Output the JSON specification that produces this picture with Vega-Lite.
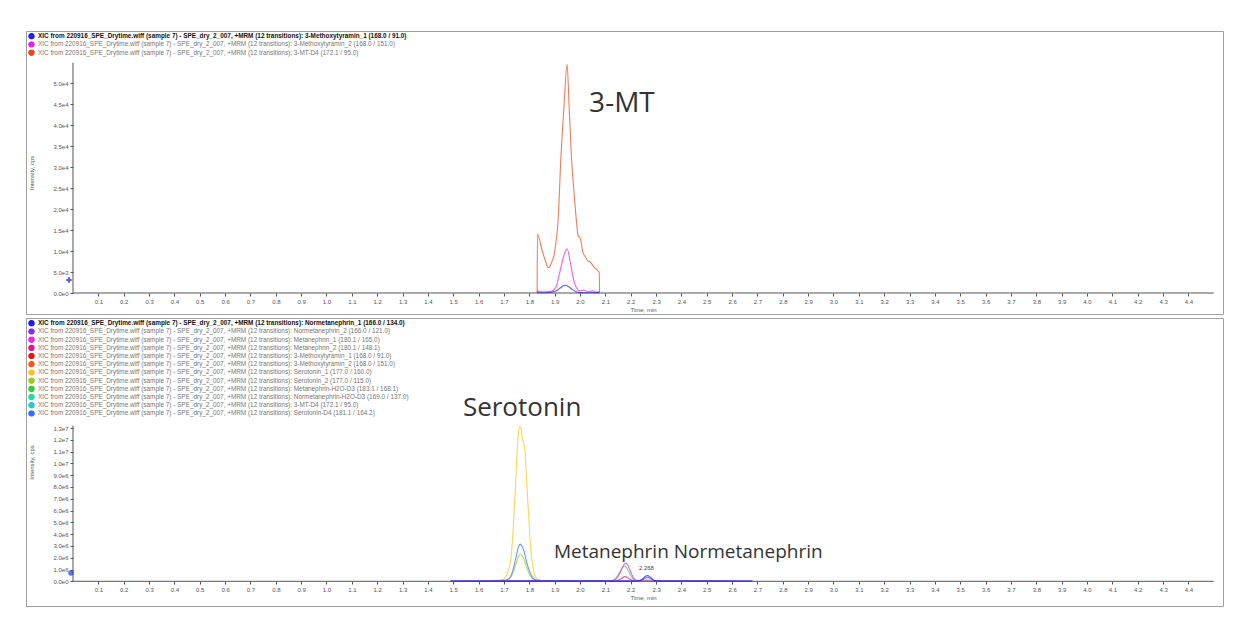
{
  "$schema": "https://vega.github.io/schema/vega-lite/v6.json",
  "padding": {"left": 25, "top": 30, "right": 0, "bottom": 0},
  "spacing": 2,
  "background": "white",
  "config": {
    "view": {"stroke": "#a0a0a0", "strokeWidth": 1},
    "axis": {"grid": false, "domain": false, "labelOverlap": false, "labelBound": false, "tickCount": 200, "tickColor": "#555", "tickSize": 3, "labelFont": "Liberation Sans", "labelFontSize": 6, "labelColor": "#555", "labelPadding": 2, "titleFont": "Liberation Sans", "titleFontSize": 6, "titleFontWeight": "normal", "titleColor": "#555"},
    "legend": {"orient": "top-left", "offset": 2, "padding": 0, "title": null, "symbolType": "circle", "symbolSize": 10, "symbolStrokeWidth": 3.4, "symbolOpacity": 1, "labelFont": "Liberation Sans", "labelFontSize": 6.4, "labelColor": "#777", "labelLimit": 0, "labelOffset": 3, "rowPadding": 1.2, "clipHeight": 6.5},
    "text": {"font": "Open Sans"}
  },
  "resolve": {"scale": {"color": "independent"}, "legend": {"color": "independent"}},
  "datasets": {
    "topAxes": [{"x": 0, "x2": 4.5, "y": 0, "y2": 0}, {"x": 0, "x2": 0, "y": 0, "y2": 54800}],
    "botAxes": [{"x": 0, "x2": 4.5, "y": 0, "y2": 0}, {"x": 0, "x2": 0, "y": 0, "y2": 13200000}],
    "top": [
      {"s": "3-MT-D4 (172.1 / 95.0)", "t": 1.831, "v": 0},
      {"s": "3-MT-D4 (172.1 / 95.0)", "t": 1.832, "v": 13980},
      {"s": "3-MT-D4 (172.1 / 95.0)", "t": 1.85, "v": 10300},
      {"s": "3-MT-D4 (172.1 / 95.0)", "t": 1.866, "v": 7200},
      {"s": "3-MT-D4 (172.1 / 95.0)", "t": 1.874, "v": 6020},
      {"s": "3-MT-D4 (172.1 / 95.0)", "t": 1.882, "v": 6400},
      {"s": "3-MT-D4 (172.1 / 95.0)", "t": 1.89, "v": 7600},
      {"s": "3-MT-D4 (172.1 / 95.0)", "t": 1.898, "v": 9000},
      {"s": "3-MT-D4 (172.1 / 95.0)", "t": 1.906, "v": 12500},
      {"s": "3-MT-D4 (172.1 / 95.0)", "t": 1.913, "v": 16700},
      {"s": "3-MT-D4 (172.1 / 95.0)", "t": 1.925, "v": 32600},
      {"s": "3-MT-D4 (172.1 / 95.0)", "t": 1.937, "v": 44500},
      {"s": "3-MT-D4 (172.1 / 95.0)", "t": 1.949, "v": 54450},
      {"s": "3-MT-D4 (172.1 / 95.0)", "t": 1.957, "v": 44500},
      {"s": "3-MT-D4 (172.1 / 95.0)", "t": 1.966, "v": 32600},
      {"s": "3-MT-D4 (172.1 / 95.0)", "t": 1.975, "v": 25000},
      {"s": "3-MT-D4 (172.1 / 95.0)", "t": 1.983, "v": 19100},
      {"s": "3-MT-D4 (172.1 / 95.0)", "t": 1.993, "v": 13600},
      {"s": "3-MT-D4 (172.1 / 95.0)", "t": 2.0, "v": 13200},
      {"s": "3-MT-D4 (172.1 / 95.0)", "t": 2.012, "v": 9600},
      {"s": "3-MT-D4 (172.1 / 95.0)", "t": 2.022, "v": 8500},
      {"s": "3-MT-D4 (172.1 / 95.0)", "t": 2.032, "v": 7600},
      {"s": "3-MT-D4 (172.1 / 95.0)", "t": 2.042, "v": 7300},
      {"s": "3-MT-D4 (172.1 / 95.0)", "t": 2.052, "v": 6400},
      {"s": "3-MT-D4 (172.1 / 95.0)", "t": 2.064, "v": 5700},
      {"s": "3-MT-D4 (172.1 / 95.0)", "t": 2.076, "v": 4830},
      {"s": "3-MT-D4 (172.1 / 95.0)", "t": 2.077, "v": 0},
      {"s": "3-Methoxytyramin_2 (168.0 / 151.0)", "t": 1.831, "v": 0},
      {"s": "3-Methoxytyramin_2 (168.0 / 151.0)", "t": 1.832, "v": 500},
      {"s": "3-Methoxytyramin_2 (168.0 / 151.0)", "t": 1.845, "v": 300},
      {"s": "3-Methoxytyramin_2 (168.0 / 151.0)", "t": 1.86, "v": 250},
      {"s": "3-Methoxytyramin_2 (168.0 / 151.0)", "t": 1.88, "v": 350},
      {"s": "3-Methoxytyramin_2 (168.0 / 151.0)", "t": 1.895, "v": 650},
      {"s": "3-Methoxytyramin_2 (168.0 / 151.0)", "t": 1.907, "v": 1670},
      {"s": "3-Methoxytyramin_2 (168.0 / 151.0)", "t": 1.92, "v": 4830},
      {"s": "3-Methoxytyramin_2 (168.0 / 151.0)", "t": 1.936, "v": 8800},
      {"s": "3-Methoxytyramin_2 (168.0 / 151.0)", "t": 1.949, "v": 10550},
      {"s": "3-Methoxytyramin_2 (168.0 / 151.0)", "t": 1.962, "v": 7200},
      {"s": "3-Methoxytyramin_2 (168.0 / 151.0)", "t": 1.973, "v": 3640},
      {"s": "3-Methoxytyramin_2 (168.0 / 151.0)", "t": 1.986, "v": 1260},
      {"s": "3-Methoxytyramin_2 (168.0 / 151.0)", "t": 2.0, "v": 500},
      {"s": "3-Methoxytyramin_2 (168.0 / 151.0)", "t": 2.015, "v": 700},
      {"s": "3-Methoxytyramin_2 (168.0 / 151.0)", "t": 2.03, "v": 300},
      {"s": "3-Methoxytyramin_2 (168.0 / 151.0)", "t": 2.05, "v": 550},
      {"s": "3-Methoxytyramin_2 (168.0 / 151.0)", "t": 2.062, "v": 200},
      {"s": "3-Methoxytyramin_2 (168.0 / 151.0)", "t": 2.076, "v": 300},
      {"s": "3-Methoxytyramin_2 (168.0 / 151.0)", "t": 2.077, "v": 0},
      {"s": "3-Methoxytyramin_1 (168.0 / 91.0)", "t": 1.832, "v": 100},
      {"s": "3-Methoxytyramin_1 (168.0 / 91.0)", "t": 1.86, "v": 50},
      {"s": "3-Methoxytyramin_1 (168.0 / 91.0)", "t": 1.89, "v": 200},
      {"s": "3-Methoxytyramin_1 (168.0 / 91.0)", "t": 1.905, "v": 450},
      {"s": "3-Methoxytyramin_1 (168.0 / 91.0)", "t": 1.92, "v": 1100},
      {"s": "3-Methoxytyramin_1 (168.0 / 91.0)", "t": 1.94, "v": 1830},
      {"s": "3-Methoxytyramin_1 (168.0 / 91.0)", "t": 1.955, "v": 1500},
      {"s": "3-Methoxytyramin_1 (168.0 / 91.0)", "t": 1.97, "v": 800},
      {"s": "3-Methoxytyramin_1 (168.0 / 91.0)", "t": 1.985, "v": 300},
      {"s": "3-Methoxytyramin_1 (168.0 / 91.0)", "t": 2.0, "v": 100},
      {"s": "3-Methoxytyramin_1 (168.0 / 91.0)", "t": 2.03, "v": 50},
      {"s": "3-Methoxytyramin_1 (168.0 / 91.0)", "t": 2.076, "v": 80}
    ],
    "bottom": [
      {"s": "Serotonin_1 (177.0 / 160.0)", "t": 1.49, "v": 20000},
      {"s": "Serotonin_1 (177.0 / 160.0)", "t": 1.6, "v": 20000},
      {"s": "Serotonin_1 (177.0 / 160.0)", "t": 1.68, "v": 60000},
      {"s": "Serotonin_1 (177.0 / 160.0)", "t": 1.7, "v": 200000},
      {"s": "Serotonin_1 (177.0 / 160.0)", "t": 1.713, "v": 700000},
      {"s": "Serotonin_1 (177.0 / 160.0)", "t": 1.726, "v": 1700000},
      {"s": "Serotonin_1 (177.0 / 160.0)", "t": 1.733, "v": 3300000},
      {"s": "Serotonin_1 (177.0 / 160.0)", "t": 1.739, "v": 5400000},
      {"s": "Serotonin_1 (177.0 / 160.0)", "t": 1.746, "v": 8300000},
      {"s": "Serotonin_1 (177.0 / 160.0)", "t": 1.752, "v": 11000000},
      {"s": "Serotonin_1 (177.0 / 160.0)", "t": 1.758, "v": 12700000},
      {"s": "Serotonin_1 (177.0 / 160.0)", "t": 1.763, "v": 13150000},
      {"s": "Serotonin_1 (177.0 / 160.0)", "t": 1.768, "v": 12900000},
      {"s": "Serotonin_1 (177.0 / 160.0)", "t": 1.773, "v": 12100000},
      {"s": "Serotonin_1 (177.0 / 160.0)", "t": 1.778, "v": 11700000},
      {"s": "Serotonin_1 (177.0 / 160.0)", "t": 1.783, "v": 11000000},
      {"s": "Serotonin_1 (177.0 / 160.0)", "t": 1.79, "v": 8300000},
      {"s": "Serotonin_1 (177.0 / 160.0)", "t": 1.798, "v": 5400000},
      {"s": "Serotonin_1 (177.0 / 160.0)", "t": 1.805, "v": 2900000},
      {"s": "Serotonin_1 (177.0 / 160.0)", "t": 1.811, "v": 1700000},
      {"s": "Serotonin_1 (177.0 / 160.0)", "t": 1.818, "v": 800000},
      {"s": "Serotonin_1 (177.0 / 160.0)", "t": 1.824, "v": 400000},
      {"s": "Serotonin_1 (177.0 / 160.0)", "t": 1.835, "v": 150000},
      {"s": "Serotonin_1 (177.0 / 160.0)", "t": 1.85, "v": 60000},
      {"s": "Serotonin_1 (177.0 / 160.0)", "t": 1.9, "v": 30000},
      {"s": "Serotonin_1 (177.0 / 160.0)", "t": 2.1, "v": 20000},
      {"s": "Serotonin_2 (177.0 / 115.0)", "t": 1.49, "v": 30000},
      {"s": "Serotonin_2 (177.0 / 115.0)", "t": 1.6, "v": 30000},
      {"s": "Serotonin_2 (177.0 / 115.0)", "t": 1.7, "v": 50000},
      {"s": "Serotonin_2 (177.0 / 115.0)", "t": 1.72, "v": 180000},
      {"s": "Serotonin_2 (177.0 / 115.0)", "t": 1.735, "v": 650000},
      {"s": "Serotonin_2 (177.0 / 115.0)", "t": 1.748, "v": 1500000},
      {"s": "Serotonin_2 (177.0 / 115.0)", "t": 1.757, "v": 2100000},
      {"s": "Serotonin_2 (177.0 / 115.0)", "t": 1.765, "v": 2300000},
      {"s": "Serotonin_2 (177.0 / 115.0)", "t": 1.772, "v": 2150000},
      {"s": "Serotonin_2 (177.0 / 115.0)", "t": 1.78, "v": 1800000},
      {"s": "Serotonin_2 (177.0 / 115.0)", "t": 1.79, "v": 1150000},
      {"s": "Serotonin_2 (177.0 / 115.0)", "t": 1.8, "v": 650000},
      {"s": "Serotonin_2 (177.0 / 115.0)", "t": 1.812, "v": 250000},
      {"s": "Serotonin_2 (177.0 / 115.0)", "t": 1.825, "v": 90000},
      {"s": "Serotonin_2 (177.0 / 115.0)", "t": 1.85, "v": 40000},
      {"s": "Serotonin_2 (177.0 / 115.0)", "t": 2.1, "v": 30000},
      {"s": "Serotonin-D4 (181.1 / 164.2)", "t": 1.49, "v": 50000},
      {"s": "Serotonin-D4 (181.1 / 164.2)", "t": 1.6, "v": 50000},
      {"s": "Serotonin-D4 (181.1 / 164.2)", "t": 1.7, "v": 80000},
      {"s": "Serotonin-D4 (181.1 / 164.2)", "t": 1.72, "v": 250000},
      {"s": "Serotonin-D4 (181.1 / 164.2)", "t": 1.735, "v": 900000},
      {"s": "Serotonin-D4 (181.1 / 164.2)", "t": 1.748, "v": 2100000},
      {"s": "Serotonin-D4 (181.1 / 164.2)", "t": 1.757, "v": 2900000},
      {"s": "Serotonin-D4 (181.1 / 164.2)", "t": 1.764, "v": 3150000},
      {"s": "Serotonin-D4 (181.1 / 164.2)", "t": 1.771, "v": 3000000},
      {"s": "Serotonin-D4 (181.1 / 164.2)", "t": 1.78, "v": 2500000},
      {"s": "Serotonin-D4 (181.1 / 164.2)", "t": 1.79, "v": 1600000},
      {"s": "Serotonin-D4 (181.1 / 164.2)", "t": 1.8, "v": 900000},
      {"s": "Serotonin-D4 (181.1 / 164.2)", "t": 1.812, "v": 350000},
      {"s": "Serotonin-D4 (181.1 / 164.2)", "t": 1.825, "v": 120000},
      {"s": "Serotonin-D4 (181.1 / 164.2)", "t": 1.85, "v": 60000},
      {"s": "Serotonin-D4 (181.1 / 164.2)", "t": 2.1, "v": 50000},
      {"s": "Metanephrin-H2O-D3 (183.1 / 168.1)", "t": 1.49, "v": 30000},
      {"s": "Metanephrin-H2O-D3 (183.1 / 168.1)", "t": 2.1, "v": 30000},
      {"s": "Metanephrin-H2O-D3 (183.1 / 168.1)", "t": 2.125, "v": 60000},
      {"s": "Metanephrin-H2O-D3 (183.1 / 168.1)", "t": 2.14, "v": 250000},
      {"s": "Metanephrin-H2O-D3 (183.1 / 168.1)", "t": 2.155, "v": 700000},
      {"s": "Metanephrin-H2O-D3 (183.1 / 168.1)", "t": 2.167, "v": 1150000},
      {"s": "Metanephrin-H2O-D3 (183.1 / 168.1)", "t": 2.175, "v": 1300000},
      {"s": "Metanephrin-H2O-D3 (183.1 / 168.1)", "t": 2.182, "v": 1200000},
      {"s": "Metanephrin-H2O-D3 (183.1 / 168.1)", "t": 2.192, "v": 850000},
      {"s": "Metanephrin-H2O-D3 (183.1 / 168.1)", "t": 2.202, "v": 450000},
      {"s": "Metanephrin-H2O-D3 (183.1 / 168.1)", "t": 2.212, "v": 150000},
      {"s": "Metanephrin-H2O-D3 (183.1 / 168.1)", "t": 2.225, "v": 50000},
      {"s": "Metanephrin-H2O-D3 (183.1 / 168.1)", "t": 2.68, "v": 30000},
      {"s": "Metanephrin_2 (180.1 / 148.1)", "t": 1.49, "v": 10000},
      {"s": "Metanephrin_2 (180.1 / 148.1)", "t": 2.14, "v": 20000},
      {"s": "Metanephrin_2 (180.1 / 148.1)", "t": 2.16, "v": 200000},
      {"s": "Metanephrin_2 (180.1 / 148.1)", "t": 2.178, "v": 400000},
      {"s": "Metanephrin_2 (180.1 / 148.1)", "t": 2.195, "v": 200000},
      {"s": "Metanephrin_2 (180.1 / 148.1)", "t": 2.215, "v": 20000},
      {"s": "Metanephrin_2 (180.1 / 148.1)", "t": 2.68, "v": 10000},
      {"s": "Metanephrin_1 (180.1 / 165.0)", "t": 1.49, "v": 20000},
      {"s": "Metanephrin_1 (180.1 / 165.0)", "t": 2.1, "v": 20000},
      {"s": "Metanephrin_1 (180.1 / 165.0)", "t": 2.13, "v": 60000},
      {"s": "Metanephrin_1 (180.1 / 165.0)", "t": 2.145, "v": 250000},
      {"s": "Metanephrin_1 (180.1 / 165.0)", "t": 2.158, "v": 700000},
      {"s": "Metanephrin_1 (180.1 / 165.0)", "t": 2.168, "v": 1200000},
      {"s": "Metanephrin_1 (180.1 / 165.0)", "t": 2.176, "v": 1500000},
      {"s": "Metanephrin_1 (180.1 / 165.0)", "t": 2.181, "v": 1550000},
      {"s": "Metanephrin_1 (180.1 / 165.0)", "t": 2.188, "v": 1400000},
      {"s": "Metanephrin_1 (180.1 / 165.0)", "t": 2.196, "v": 1000000},
      {"s": "Metanephrin_1 (180.1 / 165.0)", "t": 2.205, "v": 550000},
      {"s": "Metanephrin_1 (180.1 / 165.0)", "t": 2.213, "v": 250000},
      {"s": "Metanephrin_1 (180.1 / 165.0)", "t": 2.222, "v": 80000},
      {"s": "Metanephrin_1 (180.1 / 165.0)", "t": 2.24, "v": 20000},
      {"s": "Metanephrin_1 (180.1 / 165.0)", "t": 2.68, "v": 20000},
      {"s": "Normetanephrin-H2O-D3 (169.0 / 137.0)", "t": 1.49, "v": 20000},
      {"s": "Normetanephrin-H2O-D3 (169.0 / 137.0)", "t": 2.22, "v": 20000},
      {"s": "Normetanephrin-H2O-D3 (169.0 / 137.0)", "t": 2.25, "v": 80000},
      {"s": "Normetanephrin-H2O-D3 (169.0 / 137.0)", "t": 2.265, "v": 120000},
      {"s": "Normetanephrin-H2O-D3 (169.0 / 137.0)", "t": 2.28, "v": 80000},
      {"s": "Normetanephrin-H2O-D3 (169.0 / 137.0)", "t": 2.31, "v": 20000},
      {"s": "Normetanephrin-H2O-D3 (169.0 / 137.0)", "t": 2.68, "v": 20000},
      {"s": "Normetanephrin_2 (166.0 / 121.0)", "t": 1.49, "v": 10000},
      {"s": "Normetanephrin_2 (166.0 / 121.0)", "t": 2.22, "v": 15000},
      {"s": "Normetanephrin_2 (166.0 / 121.0)", "t": 2.245, "v": 120000},
      {"s": "Normetanephrin_2 (166.0 / 121.0)", "t": 2.258, "v": 280000},
      {"s": "Normetanephrin_2 (166.0 / 121.0)", "t": 2.267, "v": 330000},
      {"s": "Normetanephrin_2 (166.0 / 121.0)", "t": 2.277, "v": 260000},
      {"s": "Normetanephrin_2 (166.0 / 121.0)", "t": 2.29, "v": 80000},
      {"s": "Normetanephrin_2 (166.0 / 121.0)", "t": 2.31, "v": 15000},
      {"s": "Normetanephrin_2 (166.0 / 121.0)", "t": 2.68, "v": 10000},
      {"s": "Normetanephrin_1 (166.0 / 134.0)", "t": 1.49, "v": 10000},
      {"s": "Normetanephrin_1 (166.0 / 134.0)", "t": 2.2, "v": 15000},
      {"s": "Normetanephrin_1 (166.0 / 134.0)", "t": 2.235, "v": 50000},
      {"s": "Normetanephrin_1 (166.0 / 134.0)", "t": 2.248, "v": 220000},
      {"s": "Normetanephrin_1 (166.0 / 134.0)", "t": 2.258, "v": 420000},
      {"s": "Normetanephrin_1 (166.0 / 134.0)", "t": 2.266, "v": 480000},
      {"s": "Normetanephrin_1 (166.0 / 134.0)", "t": 2.274, "v": 420000},
      {"s": "Normetanephrin_1 (166.0 / 134.0)", "t": 2.283, "v": 230000},
      {"s": "Normetanephrin_1 (166.0 / 134.0)", "t": 2.293, "v": 60000},
      {"s": "Normetanephrin_1 (166.0 / 134.0)", "t": 2.31, "v": 15000},
      {"s": "Normetanephrin_1 (166.0 / 134.0)", "t": 2.68, "v": 10000}
    ],
    "topNotes": [{"t": 2.036, "v": 45000, "label": "3-MT"}],
    "botNotes": [{"t": 1.538, "v": 14700000, "label": "Serotonin"}, {"t": 1.897, "v": 2490000, "label": "Metanephrin Normetanephrin"}],
    "botSmall": [{"t": 2.262, "v": 1130000, "label": "2.268"}],
    "topMarker": [{"t": -0.016, "v": 3100}],
    "botMarker": [{"t": -0.008, "v": 700000}]
  },
  "vconcat": [
    {
      "width": 1197,
      "height": 283,
      "layer": [
        {
          "data": {"name": "topAxes"},
          "mark": {"type": "rule", "color": "#555", "strokeWidth": 1},
          "encoding": {
            "x": {"field": "x", "type": "quantitative", "scale": {"domain": [-0.1854, 4.5365], "nice": false, "zero": false},
              "axis": {"values": [0.1,0.2,0.3,0.4,0.5,0.6,0.7,0.8,0.9,1.0,1.1,1.2,1.3,1.4,1.5,1.6,1.7,1.8,1.9,2.0,2.1,2.2,2.3,2.4,2.5,2.6,2.7,2.8,2.9,3.0,3.1,3.2,3.3,3.4,3.5,3.6,3.7,3.8,3.9,4.0,4.1,4.2,4.3,4.4], "format": ".1f", "labelOverlap": false, "tickCount": 200, "offset": -21, "title": "Time, min", "titleX": 617, "titlePadding": 2}},
            "x2": {"field": "x2"},
            "y": {"field": "y", "type": "quantitative", "scale": {"domain": [-5000, 62381], "nice": false, "zero": false},
              "axis": {"values": [0,5000,10000,15000,20000,25000,30000,35000,40000,45000,50000], "labelExpr": "replace(format(datum.value, '.1e'), '+', '')", "labelOverlap": false, "tickCount": 200, "offset": -47, "title": "Intensity, cps", "titlePadding": 18}},
            "y2": {"field": "y2"}
          }
        },
        {
          "data": {"name": "top"},
          "mark": {"type": "line", "strokeWidth": 1.1, "opacity": 0.72, "interpolate": "monotone"},
          "encoding": {
            "x": {"field": "t", "type": "quantitative", "scale": {"domain": [-0.1854, 4.5365], "nice": false, "zero": false}, "title": "Time, min"},
            "y": {"field": "v", "type": "quantitative", "scale": {"domain": [-5000, 62381], "nice": false, "zero": false}, "title": "Intensity, cps"},
            "color": {"field": "s", "type": "nominal",
              "scale": {"domain": ["3-Methoxytyramin_1 (168.0 / 91.0)", "3-Methoxytyramin_2 (168.0 / 151.0)", "3-MT-D4 (172.1 / 95.0)"], "range": ["#2020f0", "#e61ee6", "#f0461e"]},
              "legend": {"labelExpr": "'XIC from 220916_SPE_Drytime.wiff (sample 7) - SPE_dry_2_007, +MRM (12 transitions): ' + datum.label",
                "encode": {"symbols": {"update": {"opacity": {"value": 1}}}, "labels": {"update": {"fontWeight": {"signal": "datum.index === 0 ? 'bold' : 'normal'"}, "fill": {"signal": "datum.index === 0 ? '#111' : '#777'"}}}}}}
          }
        },
        {
          "data": {"name": "topMarker"},
          "mark": {"type": "point", "shape": "cross", "filled": true, "size": 30, "color": "#1a1ad0"},
          "encoding": {
            "x": {"field": "t", "type": "quantitative", "scale": {"domain": [-0.1854, 4.5365], "nice": false, "zero": false}, "title": "Time, min"},
            "y": {"field": "v", "type": "quantitative", "scale": {"domain": [-5000, 62381], "nice": false, "zero": false}, "title": "Intensity, cps"}
          }
        },
        {
          "data": {"name": "topNotes"},
          "mark": {"type": "text", "align": "left", "baseline": "middle", "fontSize": 28, "color": "#333"},
          "encoding": {
            "x": {"field": "t", "type": "quantitative", "scale": {"domain": [-0.1854, 4.5365], "nice": false, "zero": false}, "title": "Time, min"},
            "y": {"field": "v", "type": "quantitative", "scale": {"domain": [-5000, 62381], "nice": false, "zero": false}, "title": "Intensity, cps"},
            "text": {"field": "label"}
          }
        }
      ]
    },
    {
      "width": 1197,
      "height": 288,
      "layer": [
        {
          "data": {"name": "botAxes"},
          "mark": {"type": "rule", "color": "#555", "strokeWidth": 1},
          "encoding": {
            "x": {"field": "x", "type": "quantitative", "scale": {"domain": [-0.1854, 4.5365], "nice": false, "zero": false},
              "axis": {"values": [0.1,0.2,0.3,0.4,0.5,0.6,0.7,0.8,0.9,1.0,1.1,1.2,1.3,1.4,1.5,1.6,1.7,1.8,1.9,2.0,2.1,2.2,2.3,2.4,2.5,2.6,2.7,2.8,2.9,3.0,3.1,3.2,3.3,3.4,3.5,3.6,3.7,3.8,3.9,4.0,4.1,4.2,4.3,4.4], "format": ".1f", "labelOverlap": false, "tickCount": 200, "offset": -25, "title": "Time, min", "titleX": 617, "titlePadding": 2}},
            "x2": {"field": "x2"},
            "y": {"field": "y", "type": "quantitative", "scale": {"domain": [-2095000, 22330000], "nice": false, "zero": false},
              "axis": {"values": [0,1000000,2000000,3000000,4000000,5000000,6000000,7000000,8000000,9000000,10000000,11000000,12000000,13000000], "labelExpr": "replace(format(datum.value, '.1e'), '+', '')", "labelOverlap": false, "tickCount": 200, "offset": -47, "title": "Intensity, cps", "titlePadding": 18}},
            "y2": {"field": "y2"}
          }
        },
        {
          "data": {"name": "bottom"},
          "mark": {"type": "line", "strokeWidth": 1.1, "opacity": 0.72, "interpolate": "monotone"},
          "encoding": {
            "x": {"field": "t", "type": "quantitative", "scale": {"domain": [-0.1854, 4.5365], "nice": false, "zero": false}, "title": "Time, min"},
            "y": {"field": "v", "type": "quantitative", "scale": {"domain": [-2095000, 22330000], "nice": false, "zero": false}, "title": "Intensity, cps"},
            "color": {"field": "s", "type": "nominal",
              "scale": {"domain": ["Normetanephrin_1 (166.0 / 134.0)", "Normetanephrin_2 (166.0 / 121.0)", "Metanephrin_1 (180.1 / 165.0)", "Metanephrin_2 (180.1 / 148.1)", "3-Methoxytyramin_1 (168.0 / 91.0)", "3-Methoxytyramin_2 (168.0 / 151.0)", "Serotonin_1 (177.0 / 160.0)", "Serotonin_2 (177.0 / 115.0)", "Metanephrin-H2O-D3 (183.1 / 168.1)", "Normetanephrin-H2O-D3 (169.0 / 137.0)", "3-MT-D4 (172.1 / 95.0)", "Serotonin-D4 (181.1 / 164.2)"],
                "range": ["#1a1aee", "#8a2be2", "#ee22ee", "#e8158a", "#e81515", "#f05a1a", "#ffc21a", "#99cc22", "#33cc33", "#22dd99", "#22cccc", "#2f6fff"]},
              "legend": {"labelExpr": "'XIC from 220916_SPE_Drytime.wiff (sample 7) - SPE_dry_2_007, +MRM (12 transitions): ' + datum.label",
                "encode": {"symbols": {"update": {"opacity": {"value": 1}}}, "labels": {"update": {"fontWeight": {"signal": "datum.index === 0 ? 'bold' : 'normal'"}, "fill": {"signal": "datum.index === 0 ? '#111' : '#777'"}}}}}}
          }
        },
        {
          "data": {"name": "botMarker"},
          "mark": {"type": "point", "shape": "circle", "filled": true, "size": 30, "color": "#1a3ad0"},
          "encoding": {
            "x": {"field": "t", "type": "quantitative", "scale": {"domain": [-0.1854, 4.5365], "nice": false, "zero": false}, "title": "Time, min"},
            "y": {"field": "v", "type": "quantitative", "scale": {"domain": [-2095000, 22330000], "nice": false, "zero": false}, "title": "Intensity, cps"}
          }
        },
        {
          "data": {"name": "botNotes"},
          "mark": {"type": "text", "align": "left", "baseline": "middle", "color": "#333"},
          "encoding": {
            "x": {"field": "t", "type": "quantitative", "scale": {"domain": [-0.1854, 4.5365], "nice": false, "zero": false}, "title": "Time, min"},
            "y": {"field": "v", "type": "quantitative", "scale": {"domain": [-2095000, 22330000], "nice": false, "zero": false}, "title": "Intensity, cps"},
            "text": {"field": "label"},
            "size": {"condition": {"test": "datum.label === 'Serotonin'", "value": 26}, "value": 19}
          }
        },
        {
          "data": {"name": "botSmall"},
          "mark": {"type": "text", "align": "center", "baseline": "middle", "fontSize": 6, "font": "Liberation Sans", "color": "#444"},
          "encoding": {
            "x": {"field": "t", "type": "quantitative", "scale": {"domain": [-0.1854, 4.5365], "nice": false, "zero": false}, "title": "Time, min"},
            "y": {"field": "v", "type": "quantitative", "scale": {"domain": [-2095000, 22330000], "nice": false, "zero": false}, "title": "Intensity, cps"},
            "text": {"field": "label"}
          }
        }
      ]
    }
  ]
}
